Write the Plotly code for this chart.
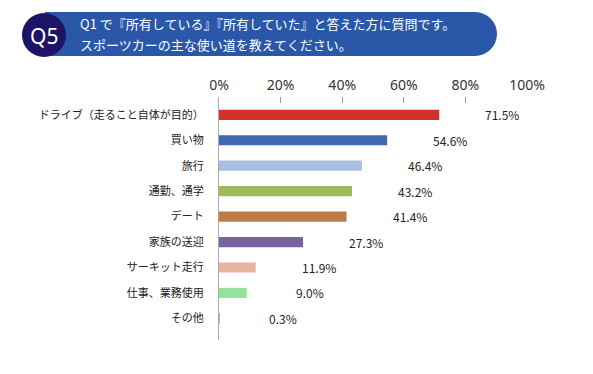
import plotly.graph_objects as go

categories = ["ドライブ（走ること自体が目的）", "買い物", "旅行", "通勤、通学", "デート",
              "家族の送迎", "サーキット走行", "仕事、業務使用", "その他"]
values = [71.5, 54.6, 46.4, 43.2, 41.4, 27.3, 11.9, 9.0, 0.3]
bar_colors = ["#d2312b", "#3e6bb0", "#a9bfdf", "#9bbb59", "#c07a45",
              "#7c62a3", "#e6b3a0", "#95e29a", "#b0b0b0"]
tick_vals = [0, 20, 40, 60, 80, 100]
tick_text = ["0%", "20%", "40%", "60%", "80%", "100%"]
title_lines = ["Q1 で『所有している』『所有していた』と答えた方に質問です。",
               "スポーツカーの主な使い道を教えてください。"]
badge = "Q5"

# page body has an 8px default margin; lay out in window pixels and shift
OFF = 8
WIN_W, WIN_H = 593, 374
W, H = WIN_W - 2 * OFF, WIN_H - 2 * OFF
PLOT_X0, PLOT_X1, PLOT_Y0, PLOT_Y1 = 219, 527, 97, 340  # window pixels
L = PLOT_X0 - OFF
R = W - (PLOT_X1 - OFF)
T = PLOT_Y0 - OFF
B = H - (PLOT_Y1 - OFF)
PW, PH = W - L - R, H - T - B
FONT = "Noto Sans CJK JP, Noto Sans, sans-serif"


def px(x):
    return (x - OFF - L) / PW


def py(y):
    return (H - B - (y - OFF)) / PH


fig = go.Figure()
fig.add_trace(go.Bar(
    x=values, y=categories, orientation="h",
    marker=dict(color=bar_colors, line=dict(width=0)),
    width=0.4, hoverinfo="skip",
))

for c, v in zip(categories, values):
    fig.add_annotation(x=v + 20.5, y=c, xref="x", yref="y", text=f"{v:.1f}%",
                       showarrow=False, xanchor="center",
                       font=dict(size=12, color="#222", family=FONT))

shapes = []
# banner
bx0, bx1, by0, by1 = 45, 497, 12, 56
r = (by1 - by0) / 2
shapes.append(dict(type="rect", xref="paper", yref="paper",
                   x0=px(bx0), x1=px(bx1 - r), y0=py(by1), y1=py(by0),
                   fillcolor="#2a57a8", line=dict(width=0), layer="above"))
shapes.append(dict(type="circle", xref="paper", yref="paper",
                   x0=px(bx1 - 2 * r), x1=px(bx1), y0=py(by1), y1=py(by0),
                   fillcolor="#2a57a8", line=dict(width=0), layer="above"))
# badge circle
cx, cy, cr = 44, 35, 22
shapes.append(dict(type="circle", xref="paper", yref="paper",
                   x0=px(cx - cr), x1=px(cx + cr), y0=py(cy + cr), y1=py(cy - cr),
                   fillcolor="#1d1466", line=dict(width=0), layer="above"))

fig.add_annotation(xref="paper", yref="paper", x=px(cx), y=py(cy + 1), text=badge,
                   showarrow=False, xanchor="center", yanchor="middle",
                   font=dict(size=21, color="white", family="Noto Sans, sans-serif"))
fig.add_annotation(xref="paper", yref="paper", x=px(78), y=py(23), text=title_lines[0],
                   showarrow=False, xanchor="left", yanchor="middle",
                   font=dict(size=13, color="white", family=FONT))
fig.add_annotation(xref="paper", yref="paper", x=px(78), y=py(44), text=title_lines[1],
                   showarrow=False, xanchor="left", yanchor="middle",
                   font=dict(size=13, color="white", family=FONT))

fig.update_layout(
    width=W, height=H,
    margin=dict(l=L, r=R, t=T, b=B, pad=0, autoexpand=False),
    paper_bgcolor="white", plot_bgcolor="white",
    showlegend=False,
    shapes=shapes,
    xaxis=dict(side="top", range=[0, 100], tickvals=tick_vals, ticktext=tick_text,
               showgrid=False, zeroline=False, showline=False, automargin=False,
               ticks="inside", ticklen=6, tickcolor="#999", tickwidth=1,
               tickfont=dict(size=14, color="#333", family="Noto Sans, sans-serif"),
               ticklabelstandoff=3, fixedrange=True),
    yaxis=dict(categoryorder="array", categoryarray=categories,
               autorange=False, range=[8.85, -0.7], automargin=False,
               showgrid=False, zeroline=False, showline=True, linecolor="#aaa", linewidth=1,
               ticks="", ticklabelstandoff=12,
               tickfont=dict(size=11, color="#222", family=FONT), fixedrange=True),
)

fig.write_html("out.html")
